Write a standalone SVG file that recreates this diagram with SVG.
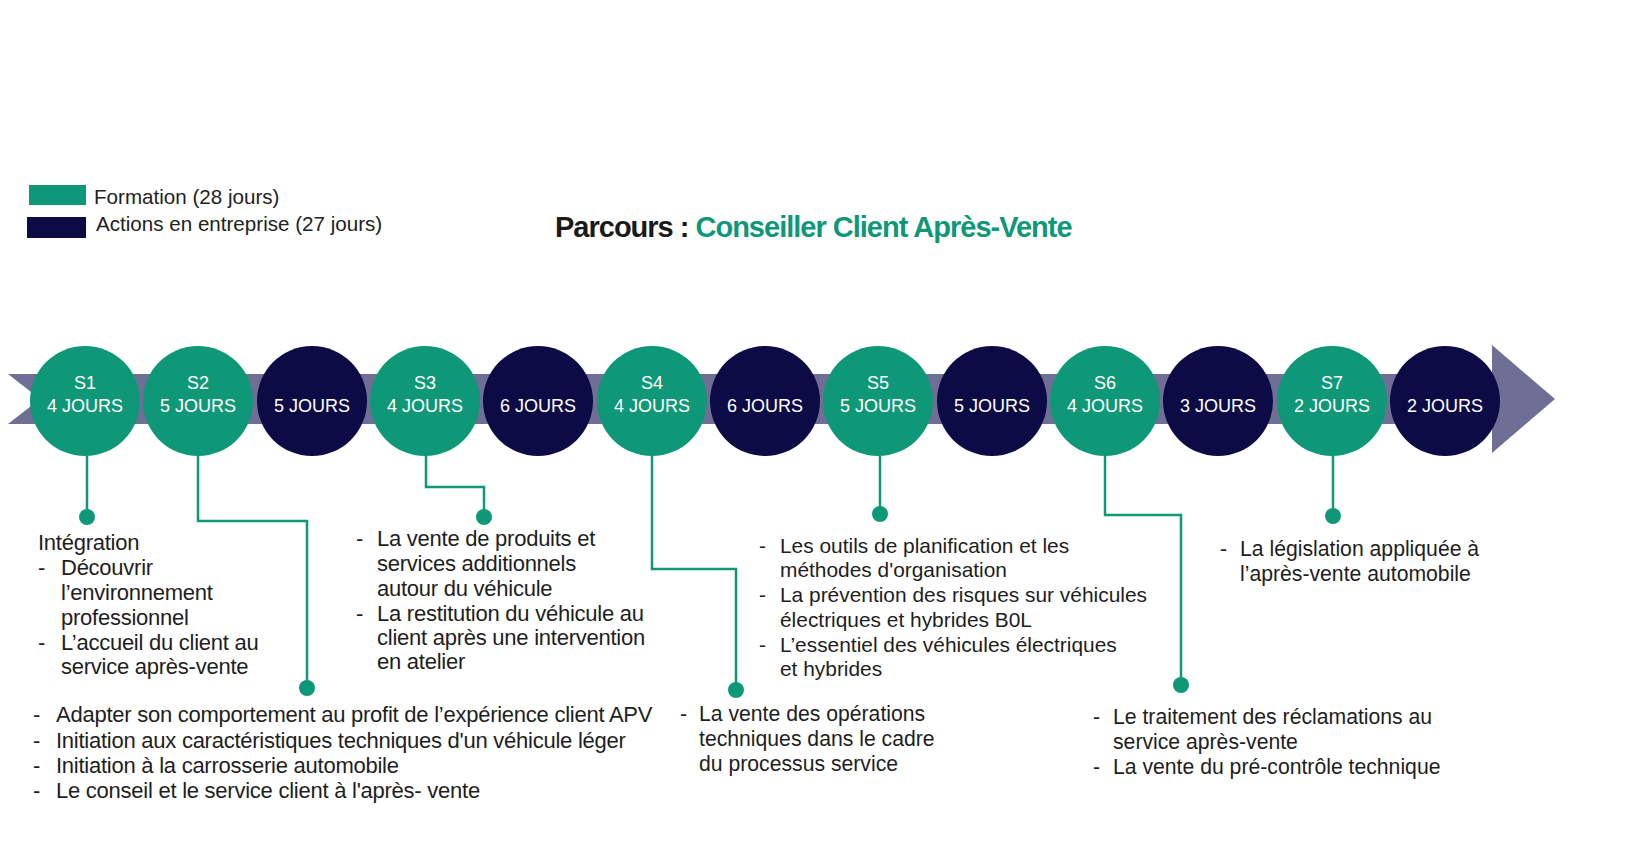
<svg xmlns="http://www.w3.org/2000/svg" width="1628" height="864" viewBox="0 0 1628 864">
<style>
.bg{fill:#ffffff}
.band{fill:#6f6f96}
.g{fill:#0f9877}
.n{fill:#0c0b45}
.ct{font-family:"Liberation Sans",Arial,sans-serif;font-size:18px;fill:#ffffff;text-anchor:middle}
.lg{font-family:"Liberation Sans",Arial,sans-serif;font-size:20.6px;fill:#222222}
.tt{font-family:"Liberation Sans",Arial,sans-serif;font-size:29px;font-weight:bold;letter-spacing:-1px}
.tx{font-family:"Liberation Sans",Arial,sans-serif;font-size:21.2px;fill:#1e1e1e}
.tn{font-size:22px;letter-spacing:-0.25px}
.ln{fill:none;stroke:#0f9877;stroke-width:2.5}
.dot{fill:#0f9877}
</style>
<rect class="bg" x="0" y="0" width="1628" height="864"/>
<g id="legend">
<rect class="g" x="29" y="185" width="57" height="20"/>
<text class="lg" x="94" y="204">Formation (28 jours)</text>
<rect class="n" x="27" y="217" width="59" height="21"/>
<text class="lg" x="96" y="231">Actions en entreprise (27 jours)</text>
</g>
<g id="title">
<text class="tt" x="555" y="237"><tspan fill="#1a1a1a">Parcours : </tspan><tspan fill="#0f9877">Conseiller Client Après-Vente</tspan></text>
</g>
<g id="timeline-arrow">
<polygon class="band" points="8,374 1492,374 1492,345 1555,399 1492,453 1492,424 8,424 40,399"/>
</g>
<g id="connectors">
<polyline class="ln" points="87,456 87,517"/>
<polyline class="ln" points="198,456 198,521 307,521 307,688"/>
<polyline class="ln" points="426,456 426,487 484,487 484,517"/>
<polyline class="ln" points="652,456 652,569 736,569 736,690"/>
<polyline class="ln" points="880,456 880,514"/>
<polyline class="ln" points="1105,456 1105,515 1181,515 1181,685"/>
<polyline class="ln" points="1333,456 1333,516"/>
<circle class="dot" cx="87" cy="517" r="8"/>
<circle class="dot" cx="307" cy="688" r="8"/>
<circle class="dot" cx="484" cy="517" r="8"/>
<circle class="dot" cx="736" cy="690" r="8"/>
<circle class="dot" cx="880" cy="514" r="8"/>
<circle class="dot" cx="1181" cy="685" r="8"/>
<circle class="dot" cx="1333" cy="516" r="8"/>
</g>
<g id="s1"><circle class="g" cx="85" cy="401" r="55"/><text class="ct" x="85" y="389">S1</text><text class="ct" x="85" y="412">4 JOURS</text></g>
<g id="s2"><circle class="g" cx="198" cy="401" r="55"/><text class="ct" x="198" y="389">S2</text><text class="ct" x="198" y="412">5 JOURS</text></g>
<g id="e1"><circle class="n" cx="312" cy="401" r="55"/><text class="ct" x="312" y="412">5 JOURS</text></g>
<g id="s3"><circle class="g" cx="425" cy="401" r="55"/><text class="ct" x="425" y="389">S3</text><text class="ct" x="425" y="412">4 JOURS</text></g>
<g id="e2"><circle class="n" cx="538" cy="401" r="55"/><text class="ct" x="538" y="412">6 JOURS</text></g>
<g id="s4"><circle class="g" cx="652" cy="401" r="55"/><text class="ct" x="652" y="389">S4</text><text class="ct" x="652" y="412">4 JOURS</text></g>
<g id="e3"><circle class="n" cx="765" cy="401" r="55"/><text class="ct" x="765" y="412">6 JOURS</text></g>
<g id="s5"><circle class="g" cx="878" cy="401" r="55"/><text class="ct" x="878" y="389">S5</text><text class="ct" x="878" y="412">5 JOURS</text></g>
<g id="e4"><circle class="n" cx="992" cy="401" r="55"/><text class="ct" x="992" y="412">5 JOURS</text></g>
<g id="s6"><circle class="g" cx="1105" cy="401" r="55"/><text class="ct" x="1105" y="389">S6</text><text class="ct" x="1105" y="412">4 JOURS</text></g>
<g id="e5"><circle class="n" cx="1218" cy="401" r="55"/><text class="ct" x="1218" y="412">3 JOURS</text></g>
<g id="s7"><circle class="g" cx="1332" cy="401" r="55"/><text class="ct" x="1332" y="389">S7</text><text class="ct" x="1332" y="412">2 JOURS</text></g>
<g id="e6"><circle class="n" cx="1445" cy="401" r="55"/><text class="ct" x="1445" y="412">2 JOURS</text></g>
<g id="txt-s1" class="tx tn">
<text x="38" y="550">Intégration</text>
<text x="38" y="575">-</text><text x="61" y="575">Découvrir</text>
<text x="61" y="600">l’environnement</text>
<text x="61" y="625">professionnel</text>
<text x="38" y="650">-</text><text x="61" y="650">L’accueil du client au</text>
<text x="61" y="674">service après-vente</text>
</g>
<g id="txt-s2" class="tx tn">
<text x="33" y="722">-</text><text x="56" y="722">Adapter son comportement au profit de l’expérience client APV</text>
<text x="33" y="748">-</text><text x="56" y="748">Initiation aux caractéristiques techniques d'un véhicule léger</text>
<text x="33" y="773">-</text><text x="56" y="773">Initiation à la carrosserie automobile</text>
<text x="33" y="798">-</text><text x="56" y="798">Le conseil et le service client à l'après- vente</text>
</g>
<g id="txt-s3" class="tx tn">
<text x="356" y="546">-</text><text x="377" y="546">La vente de produits et</text>
<text x="377" y="571">services additionnels</text>
<text x="377" y="596">autour du véhicule</text>
<text x="356" y="621">-</text><text x="377" y="621">La restitution du véhicule au</text>
<text x="377" y="645">client après une intervention</text>
<text x="377" y="669">en atelier</text>
</g>
<g id="txt-s4" class="tx">
<text x="680" y="721">-</text><text x="699" y="721">La vente des opérations</text>
<text x="699" y="746">techniques dans le cadre</text>
<text x="699" y="771">du processus service</text>
</g>
<g id="txt-s5" class="tx" style="font-size:20.9px">
<text x="759" y="553">-</text><text x="780" y="553">Les outils de planification et les</text>
<text x="780" y="577">méthodes d'organisation</text>
<text x="759" y="602">-</text><text x="780" y="602">La prévention des risques sur véhicules</text>
<text x="780" y="627">électriques et hybrides B0L</text>
<text x="759" y="652">-</text><text x="780" y="652">L’essentiel des véhicules électriques</text>
<text x="780" y="676">et hybrides</text>
</g>
<g id="txt-s6" class="tx">
<text x="1093" y="724">-</text><text x="1113" y="724">Le traitement des réclamations au</text>
<text x="1113" y="749">service après-vente</text>
<text x="1093" y="774">-</text><text x="1113" y="774">La vente du pré-contrôle technique</text>
</g>
<g id="txt-s7" class="tx">
<text x="1220" y="556">-</text><text x="1240" y="556">La législation appliquée à</text>
<text x="1240" y="581">l’après-vente automobile</text>
</g>
</svg>
